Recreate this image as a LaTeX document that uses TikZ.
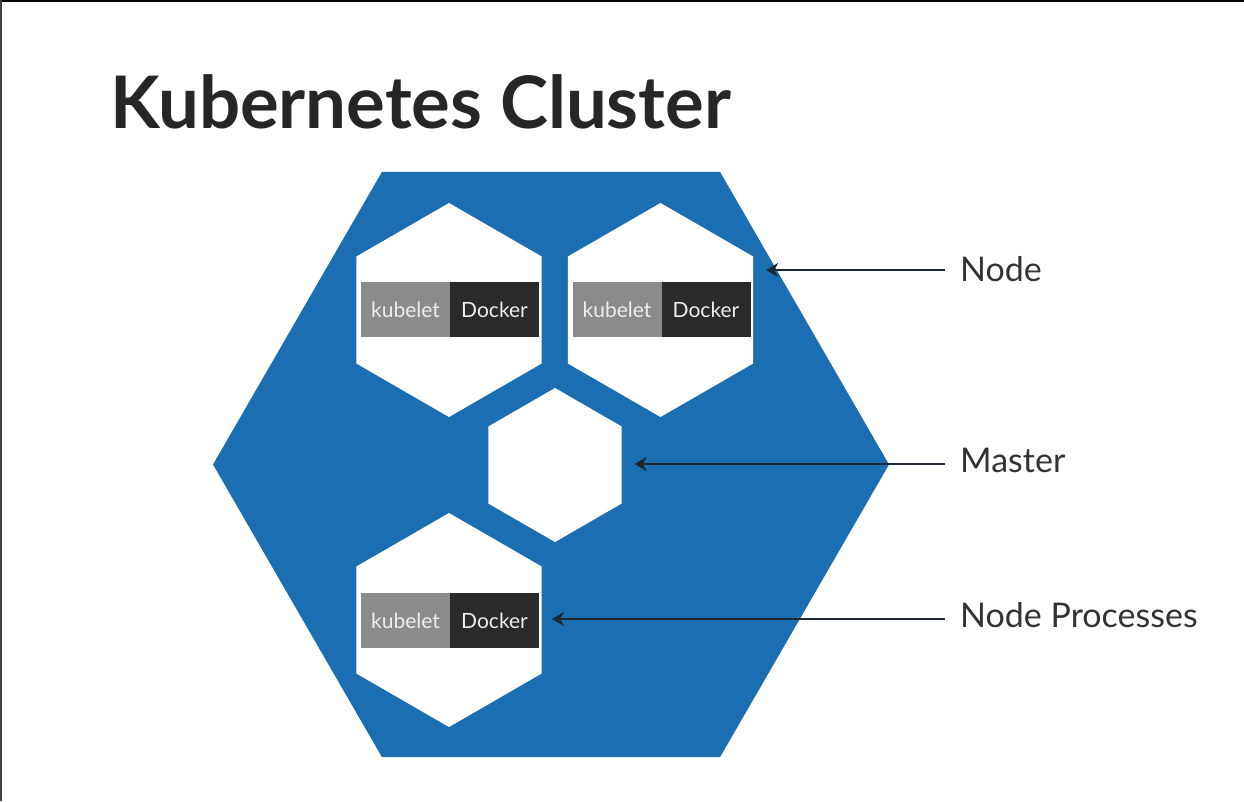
\documentclass[tikz,border=0pt]{standalone}
\usepackage{fontspec}
\setmainfont{Lato}
\usetikzlibrary{shapes.geometric,arrows.meta}
\definecolor{kblue}{HTML}{1B6EB1}
\definecolor{kgray}{HTML}{8B8B8D}
\definecolor{kdark}{HTML}{2A2A2C}
\definecolor{ktext}{HTML}{333333}
\definecolor{ktitle}{HTML}{262626}
\definecolor{karrow}{HTML}{1C2833}
\tikzset{
  bighex/.style={regular polygon, regular polygon sides=6, fill=kblue, draw=none, minimum size=676pt, inner sep=0pt, outer sep=0pt},
  smallhex/.style={regular polygon, regular polygon sides=6, shape border rotate=30, fill=white, draw=none, inner sep=0pt, outer sep=0pt},
  kubebox/.style={rectangle, fill=kgray, text=white!93!black, minimum width=89pt, minimum height=55pt, inner sep=0pt, outer sep=0pt, font=\fontsize{21}{21}\selectfont},
  dockbox/.style={kubebox, fill=kdark},
  lbl/.style={text=ktext, inner sep=0pt, anchor=base west, font=\fontsize{34}{34}\selectfont},
  arr/.style={draw=karrow, line width=2.5pt, -{Stealth[length=12pt,width=14pt]}, shorten >=13pt}
}
\begin{document}
\begin{tikzpicture}[x=1pt,y=-1pt]
\useasboundingbox (0,0) rectangle (1244,801);
\fill[white] (0,0) rectangle (1244,801);
\fill[black] (0,0) rectangle (1244,2);
\fill[black!75] (0,0) rectangle (1.5,801);
% title
\node[text=ktitle, inner sep=0pt, anchor=base west, font=\bfseries\fontsize{72.5}{72.5}\selectfont] (title) at (110,128) {Kubernetes Cluster};
% cluster
\node[bighex] (cluster) at (551,464.5) {};
\node[smallhex, minimum size=214pt] (hexA) at (449,310) {};
\node[smallhex, minimum size=214pt] (hexB) at (660.5,310) {};
\node[smallhex, minimum size=214pt] (hexC) at (449,620) {};
\node[smallhex, minimum size=154pt] (master) at (555,465) {};
% processes
\node[kubebox] (kubA) at (405.5,309.5) {kubelet};
\node[dockbox] (dockA) at (494.5,309.5) {Docker};
\node[kubebox] (kubB) at (617,309.5) {kubelet};
\node[dockbox] (dockB) at (706,309.5) {Docker};
\node[kubebox] (kubC) at (405.5,620.5) {kubelet};
\node[dockbox] (dockC) at (494.5,620.5) {Docker};
% labels
\node[lbl] (lNode) at (960,281) {Node};
\node[lbl] (lMaster) at (960,472) {Master};
\node[lbl] (lProc) at (960,627) {Node Processes};
\coordinate (sNode) at (945,270);
\coordinate (sMaster) at (945,464);
\coordinate (sProc) at (945,619);
\draw[arr] (sNode) -- (sNode -| hexB.east);
\draw[arr] (sMaster) -- (sMaster -| master.east);
\draw[arr] (sProc) -- (sProc -| dockC.east);
\end{tikzpicture}
\end{document}
